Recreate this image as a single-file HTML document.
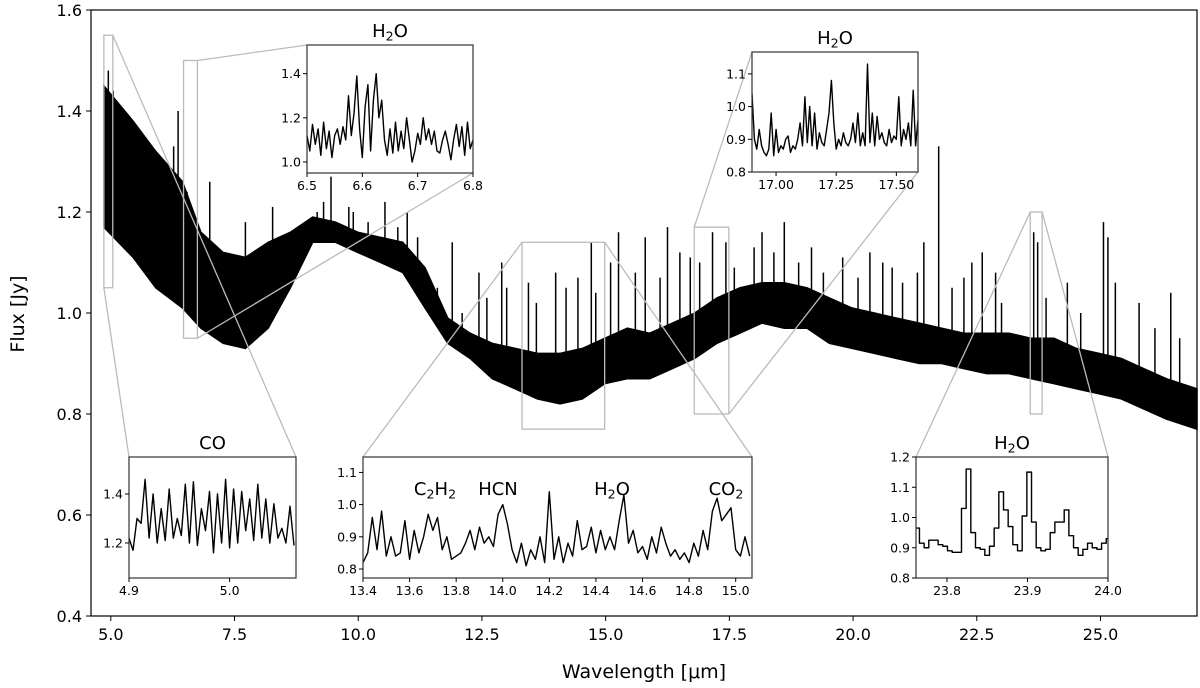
<!DOCTYPE html>
<html><head><meta charset="utf-8"><style>
body{margin:0;background:#fff}
svg{display:block;font-family:"DejaVu Sans","Liberation Sans",sans-serif}
</style></head><body>
<svg id="c" width="1200" height="688" xmlns="http://www.w3.org/2000/svg"></svg>
<script>
// ---------- main spectrum data ----------
const mainWl  = [4.86,5.45,5.91,6.45,6.82,7.27,7.72,8.18,8.63,9.08,9.54,9.99,10.45,10.90,11.35,11.81,12.26,12.71,13.17,13.62,14.08,14.53,14.98,15.44,15.89,16.35,16.80,17.25,17.71,18.16,18.61,19.07,19.52,19.98,20.43,20.88,21.34,21.79,22.24,22.70,23.15,23.60,24.06,24.51,24.97,25.42,25.87,26.33,26.95];
const mainHi  = [1.45,1.38,1.32,1.26,1.16,1.12,1.11,1.14,1.16,1.19,1.18,1.16,1.15,1.14,1.09,0.99,0.96,0.94,0.93,0.92,0.92,0.93,0.95,0.97,0.96,0.98,1.00,1.03,1.05,1.06,1.06,1.05,1.03,1.01,1.00,0.99,0.98,0.97,0.96,0.96,0.96,0.95,0.95,0.93,0.92,0.91,0.89,0.87,0.85];
const mainLo  = [1.17,1.11,1.05,1.01,0.97,0.94,0.93,0.97,1.05,1.14,1.14,1.12,1.10,1.08,1.01,0.94,0.91,0.87,0.85,0.83,0.82,0.83,0.86,0.87,0.87,0.89,0.91,0.94,0.96,0.98,0.97,0.97,0.94,0.93,0.92,0.91,0.90,0.90,0.89,0.88,0.88,0.87,0.86,0.85,0.84,0.83,0.81,0.79,0.77];
const spikeWl = [4.95,5.05,5.27,6.27,6.36,6.54,7.0,7.72,8.27,9.17,9.45,9.81,10.54,10.99,11.9,12.44,12.9,13.44,13.99,14.44,14.71,15.26,15.8,16.25,16.71,17.16,17.43,18.16,18.61,19.16,19.79,20.34,20.79,21.43,21.73,22.24,22.61,22.88,23.65,23.73,24.33,25.06,25.15,25.78,26.42,
 5.6,5.8,6.1,6.9,7.4,8.0,8.8,9.3,9.9,10.2,10.8,11.2,11.6,12.1,12.6,13.0,13.6,14.2,14.8,15.1,15.6,16.1,16.5,16.9,17.6,18.0,18.4,18.9,19.4,20.1,20.6,21.0,21.3,22.0,22.4,23.0,23.9,24.6,25.3,26.1,26.6];
const spikeFx = [1.48,1.44,1.35,1.33,1.40,1.24,1.26,1.18,1.21,1.20,1.27,1.21,1.22,1.20,1.14,1.08,1.10,1.06,1.08,1.07,1.14,1.16,1.15,1.17,1.11,1.16,1.14,1.16,1.18,1.13,1.11,1.12,1.09,1.14,1.33,1.07,1.12,1.08,1.16,1.14,1.06,1.18,1.15,1.02,1.04,
 1.35,1.30,1.28,1.12,1.07,1.10,1.15,1.22,1.20,1.18,1.17,1.15,1.05,1.00,1.03,1.05,1.02,1.05,1.04,1.10,1.08,1.07,1.12,1.10,1.09,1.13,1.12,1.10,1.08,1.07,1.10,1.06,1.08,1.05,1.10,1.02,1.03,1.00,1.06,0.97,0.95];
const xTicks = [5.0,7.5,10.0,12.5,15.0,17.5,20.0,22.5,25.0];
const yTicks = [0.4,0.6,0.8,1.0,1.2,1.4,1.6];
// zoom rectangles in main axes units: [w0,w1,f0,f1]
const zoomRects = [[4.86,5.04,1.05,1.55],[6.47,6.75,0.95,1.50],[13.31,14.98,0.77,1.14],[16.79,17.49,0.80,1.17],[23.58,23.82,0.80,1.20]];

// ---------- inset data ----------
const coStart=4.9, coStep=0.004;
const coFlux=[1.22,1.17,1.30,1.28,1.46,1.22,1.40,1.20,1.34,1.21,1.42,1.22,1.30,1.23,1.44,1.20,1.45,1.19,1.34,1.25,1.41,1.16,1.40,1.20,1.46,1.18,1.42,1.20,1.41,1.25,1.38,1.21,1.44,1.22,1.38,1.20,1.36,1.22,1.26,1.20,1.35,1.19];
const aStart=6.5, aStep=0.005;
const aFlux=[1.12,1.05,1.17,1.08,1.15,1.03,1.18,1.06,1.14,1.02,1.12,1.15,1.08,1.16,1.10,1.30,1.12,1.22,1.39,1.15,1.02,1.25,1.35,1.05,1.28,1.40,1.20,1.28,1.10,1.03,1.15,1.04,1.18,1.05,1.14,1.06,1.20,1.10,1.00,1.05,1.13,1.08,1.20,1.10,1.15,1.08,1.14,1.05,1.04,1.10,1.14,1.08,1.01,1.10,1.17,1.07,1.16,1.03,1.18,1.06,1.10];
const bStart=16.9, bStep=0.01;
const bFlux=[1.04,0.90,0.87,0.93,0.88,0.86,0.85,0.87,0.98,0.85,0.93,0.86,0.88,0.87,0.90,0.91,0.86,0.88,0.87,0.90,0.95,0.88,1.03,0.89,1.00,0.88,0.98,0.87,0.92,0.89,0.88,0.93,0.98,1.08,0.95,0.87,0.90,0.88,0.92,0.89,0.88,0.90,0.95,0.89,0.98,0.88,0.92,0.88,1.13,0.89,0.98,0.88,0.97,0.90,0.92,0.89,0.88,0.93,0.89,0.91,0.90,1.03,0.88,0.93,0.90,0.95,0.88,1.05,0.88,0.96];
const mStart=13.4, mStep=0.02;
const mFlux=[0.82,0.85,0.96,0.86,0.98,0.84,0.90,0.84,0.85,0.95,0.83,0.92,0.85,0.90,0.97,0.92,0.96,0.86,0.90,0.83,0.84,0.85,0.88,0.92,0.86,0.93,0.88,0.90,0.87,0.97,1.00,0.94,0.86,0.82,0.88,0.81,0.86,0.83,0.90,0.82,1.04,0.83,0.90,0.82,0.88,0.84,0.95,0.86,0.87,0.93,0.85,0.92,0.86,0.90,0.86,0.95,1.03,0.88,0.92,0.85,0.87,0.83,0.90,0.85,0.93,0.88,0.84,0.86,0.83,0.85,0.82,0.88,0.84,0.92,0.86,0.98,1.02,0.95,0.97,0.99,0.86,0.84,0.90,0.84];
const rStart=23.76, rStep=0.0058;
const rFlux=[0.965,0.915,0.90,0.925,0.925,0.91,0.905,0.89,0.885,0.885,1.03,1.16,0.95,0.90,0.895,0.875,0.905,0.965,1.085,1.025,0.97,0.91,0.89,1.005,1.15,0.985,0.90,0.89,0.895,0.95,0.985,0.985,1.025,0.94,0.90,0.875,0.895,0.915,0.90,0.895,0.915,0.93];

const NS="http://www.w3.org/2000/svg";
const svg=document.getElementById('c');
function el(tag,attrs,parent){const e=document.createElementNS(NS,tag);for(const k in attrs)e.setAttribute(k,attrs[k]);(parent||svg).appendChild(e);return e;}

// main axes
const PX0=91,PX1=1197,PY0=10,PY1=616;
const X0=4.60,X1=26.95,Y0=0.4,Y1=1.6;
const sx=w=>PX0+(w-X0)/(X1-X0)*(PX1-PX0);
const sy=f=>PY1-(f-Y0)/(Y1-Y0)*(PY1-PY0);

const gMain=el('g',{});


let pts=[];
for(let i=0;i<mainWl.length;i++)pts.push(sx(mainWl[i]).toFixed(1)+','+sy(mainHi[i]).toFixed(1));
for(let i=mainWl.length-1;i>=0;i--)pts.push(sx(mainWl[i]).toFixed(1)+','+sy(mainLo[i]).toFixed(1));
const band=el('polygon',{points:pts.join(' '),fill:'#000',stroke:'#000','stroke-width':1.5},gMain);


function interpLo(w){for(let i=0;i<mainWl.length-1;i++){if(w>=mainWl[i]&&w<=mainWl[i+1]){const t=(w-mainWl[i])/(mainWl[i+1]-mainWl[i]);return mainLo[i]+t*(mainLo[i+1]-mainLo[i]);}}return mainLo[mainLo.length-1];}
for(let i=0;i<spikeWl.length;i++){
  const l=el('line',{x1:sx(spikeWl[i]),x2:sx(spikeWl[i]),y1:sy(interpLo(spikeWl[i])),y2:sy(spikeFx[i]),stroke:'#000','stroke-width':1.5},gMain);
  
  
}

// frame
const fr=el('rect',{x:PX0,y:PY0,width:PX1-PX0,height:PY1-PY0,fill:'none',stroke:'#000','stroke-width':1.2});


xTicks.forEach(t=>{
  el('line',{x1:sx(t),x2:sx(t),y1:PY1,y2:PY1+5,stroke:'#000'});
  const tx=el('text',{x:sx(t),y:PY1+24,'text-anchor':'middle','font-size':16});
  tx.textContent=t.toFixed(1);
  
  
});
yTicks.forEach(t=>{
  el('line',{x1:PX0-5,x2:PX0,y1:sy(t),y2:sy(t),stroke:'#000'});
  const tx=el('text',{x:PX0-9,y:sy(t)+6,'text-anchor':'end','font-size':16});
  tx.textContent=t.toFixed(1);
  
  
});
const xl=el('text',{x:(PX0+PX1)/2,y:678,'text-anchor':'middle','font-size':19});
xl.textContent='Wavelength [\u03bcm]';


const yl=el('text',{x:0,y:0,'text-anchor':'middle','font-size':19,transform:'translate(24,314) rotate(-90)'});
yl.textContent='Flux [Jy]';



const insets=[
 {name:'co',box:[129,457,296,578],xr:[4.9,5.066],yr:[1.057,1.551],data:coFlux,start:coStart,step:coStep,xt:[4.9,5.0],xf:1,yt:[1.2,1.4],yf:1,title:'CO',rect:0},
 {name:'h2o-6um',box:[307,45,473,173],xr:[6.5,6.8],yr:[0.95,1.53],data:aFlux,start:aStart,step:aStep,xt:[6.5,6.6,6.7,6.8],xf:1,yt:[1.0,1.2,1.4],yf:1,title:'H2O',rect:1},
 {name:'middle',box:[363,457,752,578],xr:[13.4,15.07],yr:[0.772,1.148],data:mFlux,start:mStart,step:mStep,xt:[13.4,13.6,13.8,14.0,14.2,14.4,14.6,14.8,15.0],xf:1,yt:[0.8,0.9,1.0,1.1],yf:1,title:null,rect:2},
 {name:'h2o-17um',box:[752,52,918,172],xr:[16.9,17.59],yr:[0.8,1.167],data:bFlux,start:bStart,step:bStep,xt:[17.0,17.25,17.5],xf:2,yt:[0.8,0.9,1.0,1.1],yf:1,title:'H2O',rect:3},
 {name:'h2o-24um',box:[916,457,1108,578],xr:[23.7615,24.0],yr:[0.8,1.2],data:rFlux,start:rStart,step:rStep,xt:[23.8,23.9,24.0],xf:1,yt:[0.8,0.9,1.0,1.1,1.2],yf:1,title:'H2O',rect:4,steps:true}
];
const connectors=[
 [0,[1,0],[1,0]],[0,[0,1],[0,0]],
 [1,[1,0],[0,0]],[1,[1,1],[1,1]],
 [2,[0,0],[0,0]],[2,[1,0],[1,0]],
 [3,[0,0],[0,0]],[3,[1,1],[1,1]],
 [4,[0,0],[0,0]],[4,[1,0],[1,0]]
];
zoomRects.forEach((r,i)=>{
  const x0=sx(r[0]),x1=sx(r[1]),y0=sy(r[3]),y1=sy(r[2]);
  const re=el('rect',{x:x0,y:y0,width:x1-x0,height:y1-y0,fill:'none',stroke:'#bbb','stroke-width':1.3});
  
  
});
connectors.forEach(c=>{
  const r=zoomRects[c[0]];const ins=insets.find(s=>s.rect===c[0]);
  const rx=c[1][0]?sx(r[1]):sx(r[0]), ry=c[1][1]?sy(r[2]):sy(r[3]);
  const ix=c[2][0]?ins.box[2]:ins.box[0], iy=c[2][1]?ins.box[3]:ins.box[1];
  const l=el('line',{x1:rx,y1:ry,x2:ix,y2:iy,stroke:'#bbb','stroke-width':1.3});
  
  
});

function addTitle(g,x,y,mol,size){
  const t=el('text',{x:x,y:y,'text-anchor':'middle','font-size':size},g);
  
  
  const parts=mol.split(/(\d)/).filter(s=>s);
  parts.forEach(p=>{
    const ts=el('tspan',{},t);
    if(/\d/.test(p)){ts.setAttribute('font-size',size*0.7);ts.setAttribute('dy',size*0.2);}
    else if(t.childNodes.length>1){ts.setAttribute('dy',-size*0.2);}
    ts.textContent=p;
  });
}

insets.forEach(s=>{
  const [bx0,by0,bx1,by1]=s.box;
  const g=el('g',{});
  
  
  el('rect',{x:bx0,y:by0,width:bx1-bx0,height:by1-by0,fill:'#fff'},g);
  const ix=w=>bx0+(w-s.xr[0])/(s.xr[1]-s.xr[0])*(bx1-bx0);
  const iy=f=>by1-(f-s.yr[0])/(s.yr[1]-s.yr[0])*(by1-by0);
  let p=[];
  s.data.forEach((v,i)=>{
    const w=s.start+i*s.step;
    if(s.steps){p.push(ix(w)+','+iy(v));p.push(ix(Math.min(w+s.step,s.xr[1]))+','+iy(v));}
    else p.push(ix(w).toFixed(1)+','+iy(v).toFixed(1));
  });
  const cp=el('clipPath',{id:'cl'+s.name},g);
  el('rect',{x:bx0,y:by0,width:bx1-bx0,height:by1-by0},cp);
  const pl=el('polyline',{points:p.join(' '),fill:'none',stroke:'#000','stroke-width':1.4,'clip-path':'url(#cl'+s.name+')','stroke-linejoin':'round'},g);
  
  
  el('rect',{x:bx0,y:by0,width:bx1-bx0,height:by1-by0,fill:'none',stroke:'#333','stroke-width':1.2},g);
  s.xt.forEach(t=>{
    el('line',{x1:ix(t),x2:ix(t),y1:by1,y2:by1+4,stroke:'#000'},g);
    const tx=el('text',{x:ix(t),y:by1+17,'text-anchor':'middle','font-size':12.5},g);
    tx.textContent=t.toFixed(s.xf);
    
    
  });
  s.yt.forEach(t=>{
    el('line',{x1:bx0-4,x2:bx0,y1:iy(t),y2:iy(t),stroke:'#000'},g);
    const tx=el('text',{x:bx0-6,y:iy(t)+4.5,'text-anchor':'end','font-size':12.5},g);
    tx.textContent=t.toFixed(s.yf);
    
    
  });
  if(s.title) addTitle(g,(bx0+bx1)/2,by0-8,s.title,18);
  if(s.name==='middle'){
    addTitle(g,435,495,'C2H2',18);
    addTitle(g,498,495,'HCN',18);
    addTitle(g,612,495,'H2O',18);
    addTitle(g,726,495,'CO2',18);
  }
});
</script>
</body></html>
